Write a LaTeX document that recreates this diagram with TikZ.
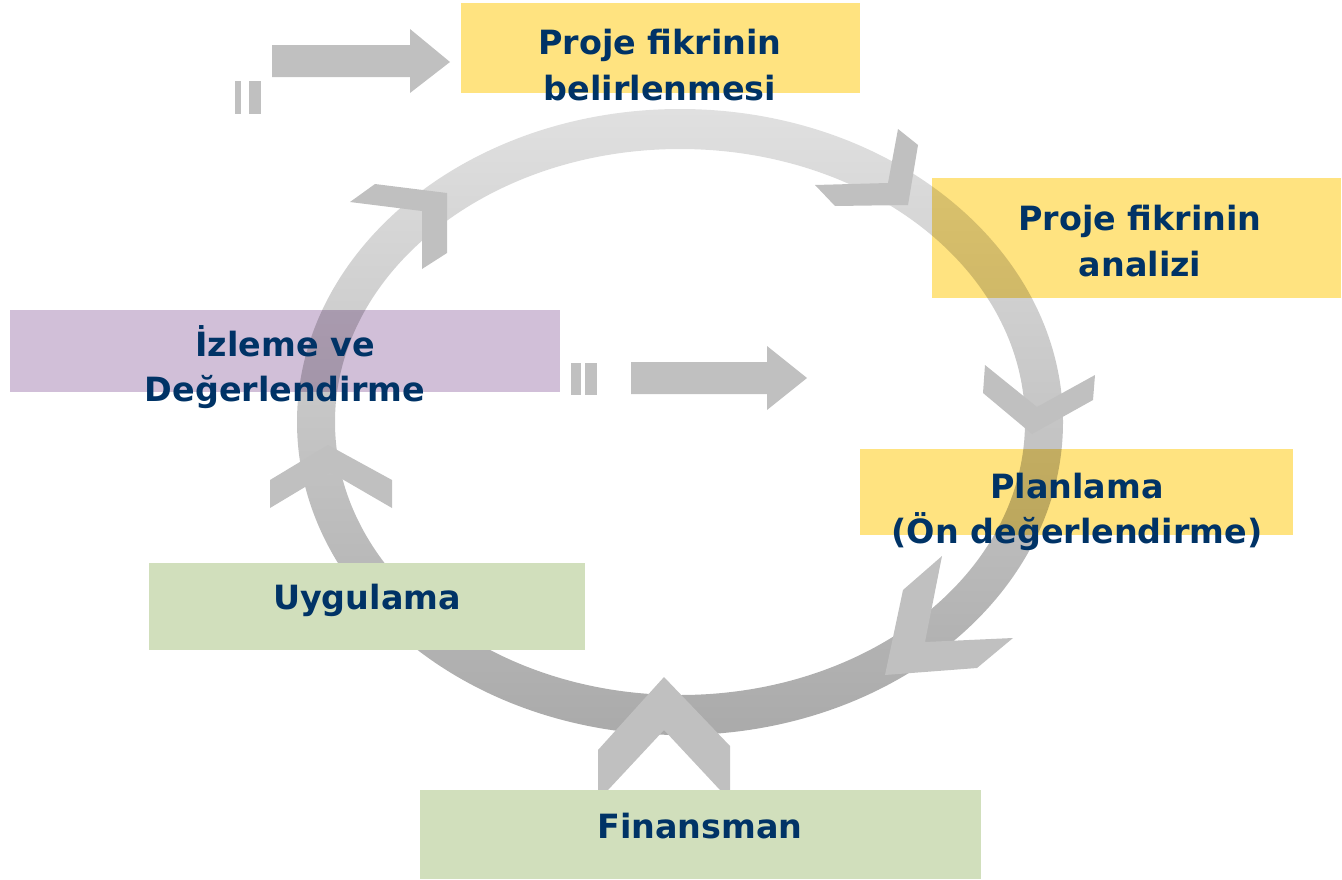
\documentclass[tikz,border=0pt]{standalone}
\usepackage{fontspec}
\setsansfont{DejaVu Sans}
\usetikzlibrary{shapes,backgrounds}
\definecolor{boxyellow}{RGB}{255,227,128}
\definecolor{boxpurple}{RGB}{209,191,216}
\definecolor{boxgreen}{RGB}{209,223,188}
\definecolor{navy}{RGB}{0,51,102}
\definecolor{ringtop}{RGB}{224,224,224}
\definecolor{ringbot}{RGB}{170,170,170}
\definecolor{chev}{RGB}{192,192,192}
\tikzset{
  box/.style={rectangle, draw=none, inner sep=0pt},
  lbl/.style={text=navy, align=center, font=\sffamily\bfseries\fontsize{19}{26}\selectfont},
  chevron/.style={fill=chev, draw=none},
}

\begin{document}
\begin{tikzpicture}[x=0.02cm,y=-0.02cm]
      \useasboundingbox (0,0) rectangle (1342,879);
      % boxes
      \node[box, fill=boxyellow, minimum width=7.98cm, minimum height=1.8cm] (belirlemebox) at (660.5,48) {};
      \node[box, fill=boxyellow, minimum width=8.18cm, minimum height=2.4cm] (analizbox) at (1136.5,238) {};
      \node[box, fill=boxyellow, minimum width=8.66cm, minimum height=1.72cm] (planlamabox) at (1076.5,492) {};
      \node[box, fill=boxpurple, minimum width=11cm, minimum height=1.64cm] (izlemebox) at (285,351) {};
      % ring
      \begin{scope}[blend mode=multiply]
      \shade[top color=ringtop, bottom color=ringbot, even odd rule]
        (680,422) ellipse (383 and 313) (680,422) ellipse (345 and 273);
      \end{scope}
      \node[box, fill=boxgreen, minimum width=8.72cm, minimum height=1.74cm] (uygulamabox) at (367,606.5) {};
      % chevrons
      \fill[chevron] (898,129) -- (918,145) -- (908,205) -- (835,206) -- (815,185) -- (888,183) -- cycle;
      \fill[chevron] (985,365) -- (1037,407) -- (1095,375) -- (1093,400) -- (1032,434) -- (983,393) -- cycle;
      \fill[chevron] (942,556) -- (925,642) -- (1013,638) -- (977,668) -- (885,675) -- (903,590) -- cycle;
      \fill[chevron] (664,677) -- (730,746) -- (730,790) -- (720,790) -- (664,730) -- (608,790) -- (598,790) -- (598,750) -- cycle;
      \fill[chevron] (328,445) -- (392,480) -- (392,508) -- (330,472) -- (270,508) -- (270,480) -- cycle;
      \fill[chevron] (350,202) -- (375,184) -- (447,193) -- (447,253) -- (422,269) -- (422,211) -- cycle;
      \node[box, fill=boxgreen, minimum width=11.22cm, minimum height=1.78cm] (finansmanbox) at (700.5,834.5) {};
      % arrows
      \fill[chev] (272,45) -- (410,45) -- (410,29) -- (450,62) -- (410,93) -- (410,77) -- (272,77) -- cycle;
      \fill[chev] (235,81) rectangle (241,114);
      \fill[chev] (249,81) rectangle (261,114);
      \fill[chev] (631,362) -- (767,362) -- (767,346) -- (807,378) -- (767,410) -- (767,394) -- (631,394) -- cycle;
      \fill[chev] (571,363) rectangle (581,395);
      \fill[chev] (585,363) rectangle (597,395);
      % labels
      \node[lbl] (belirleme) at (660,65) {Proje fikrinin\\belirlenmesi};
      \node[lbl] (analiz) at (1140,241) {Proje fikrinin\\analizi};
      \node[lbl] (planlama) at (1077,512) {Planlama\\(Ön değerlendirme)};
      \node[lbl] (izleme) at (285,367) {İzleme ve\\Değerlendirme};
      \node[lbl] (uygulama) at (367,600) {Uygulama};
      \node[lbl] (finansman) at (700,826) {Finansman};
\end{tikzpicture}
\end{document}
